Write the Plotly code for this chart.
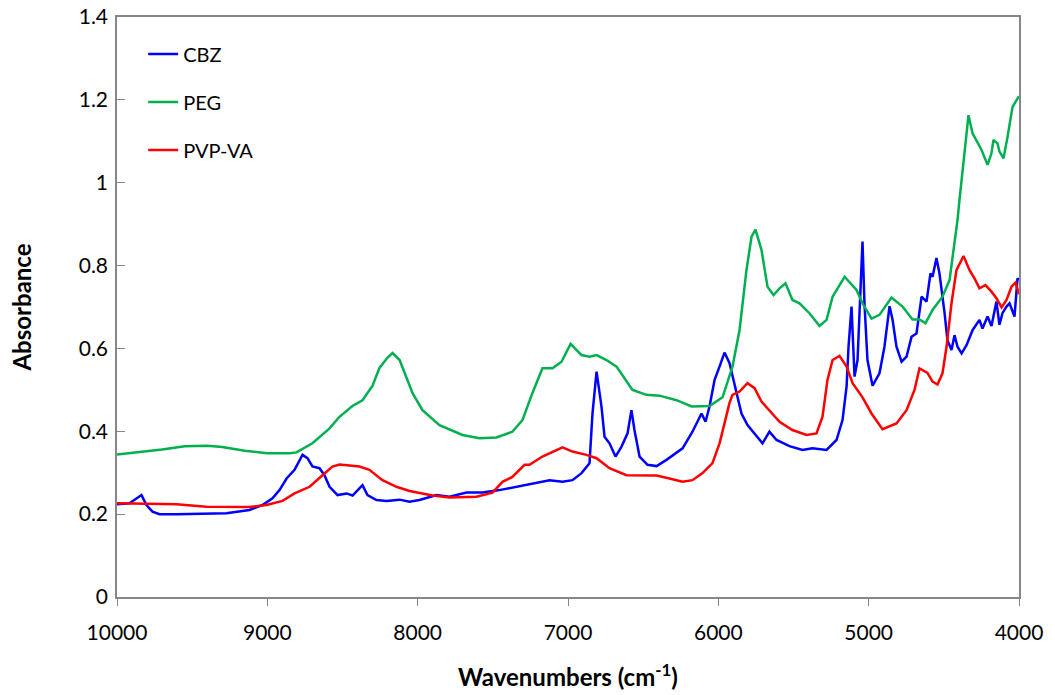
import plotly.graph_objects as go

# NIR absorbance spectra, 10000-4000 cm-1
cbz_wn = [10000, 9917, 9837, 9804, 9764, 9717, 9604, 9450, 9272, 9119, 9032, 8966, 8919, 8872,
          8819, 8766, 8733, 8700, 8653, 8620, 8586, 8533, 8473, 8433, 8367, 8334, 8274, 8207,
          8121, 8054, 7988, 7875, 7788, 7675, 7569, 7456, 7343, 7236, 7123, 7037, 6970, 6910,
          6857, 6837, 6810, 6777, 6757, 6724, 6684, 6644, 6604, 6578, 6558, 6524, 6471, 6411,
          6345, 6238, 6172, 6112, 6085, 6059, 6025, 5992, 5959, 5926, 5879, 5846, 5806, 5759,
          5706, 5660, 5613, 5527, 5440, 5374, 5280, 5214, 5174, 5147, 5134, 5114, 5094, 5074,
          5054, 5041, 5028, 5008, 4974, 4928, 4895, 4861, 4841, 4815, 4781, 4748, 4715, 4682,
          4648, 4615, 4589, 4575, 4549, 4529, 4495, 4476, 4449, 4429, 4409, 4382, 4349, 4309,
          4263, 4243, 4209, 4183, 4150, 4130, 4110, 4083, 4063, 4030, 4010, 4000]
cbz_abs = [0.224, 0.226, 0.246, 0.222, 0.206, 0.200, 0.200, 0.201, 0.202, 0.210, 0.222, 0.238,
           0.258, 0.286, 0.307, 0.343, 0.335, 0.315, 0.311, 0.294, 0.266, 0.246, 0.250, 0.245,
           0.270, 0.246, 0.234, 0.232, 0.235, 0.230, 0.234, 0.246, 0.242, 0.252, 0.252, 0.258,
           0.266, 0.274, 0.282, 0.278, 0.282, 0.299, 0.323, 0.443, 0.544, 0.459, 0.387, 0.371,
           0.339, 0.363, 0.395, 0.451, 0.403, 0.339, 0.319, 0.316, 0.331, 0.359, 0.399, 0.443,
           0.423, 0.459, 0.524, 0.556, 0.590, 0.565, 0.492, 0.443, 0.415, 0.395, 0.371, 0.399,
           0.379, 0.364, 0.355, 0.359, 0.355, 0.379, 0.427, 0.508, 0.604, 0.701, 0.532, 0.572,
           0.749, 0.858, 0.709, 0.572, 0.510, 0.540, 0.604, 0.702, 0.669, 0.604, 0.568, 0.580,
           0.628, 0.636, 0.725, 0.713, 0.781, 0.773, 0.818, 0.781, 0.685, 0.620, 0.596, 0.632,
           0.604, 0.588, 0.608, 0.644, 0.669, 0.648, 0.677, 0.654, 0.713, 0.657, 0.685, 0.701,
           0.709, 0.677, 0.769, 0.765]

peg_wn = [10000, 9850, 9700, 9550, 9400, 9300, 9150, 9000, 8850, 8806, 8700, 8586, 8520, 8434,
          8367, 8300, 8254, 8200, 8167, 8120, 8034, 7968, 7855, 7702, 7589, 7476, 7370, 7303,
          7237, 7170, 7103, 7043, 6983, 6910, 6857, 6810, 6744, 6677, 6591, 6571, 6478, 6391,
          6278, 6178, 6058, 5972, 5906, 5859, 5813, 5779, 5753, 5713, 5673, 5633, 5593, 5553,
          5507, 5460, 5394, 5327, 5280, 5240, 5160, 5081, 5041, 4981, 4928, 4848, 4775, 4708,
          4662, 4622, 4575, 4509, 4462, 4430, 4409, 4396, 4362, 4336, 4309, 4276, 4249, 4209,
          4183, 4170, 4143, 4130, 4103, 4076, 4043, 4000]
peg_abs = [0.344, 0.350, 0.356, 0.364, 0.365, 0.362, 0.353, 0.347, 0.347, 0.349, 0.371, 0.407,
           0.435, 0.461, 0.475, 0.510, 0.553, 0.578, 0.589, 0.572, 0.492, 0.451, 0.415, 0.391,
           0.383, 0.385, 0.399, 0.427, 0.492, 0.552, 0.552, 0.568, 0.611, 0.584, 0.580, 0.584,
           0.572, 0.556, 0.512, 0.500, 0.488, 0.486, 0.475, 0.460, 0.461, 0.482, 0.556, 0.644,
           0.789, 0.870, 0.887, 0.838, 0.749, 0.729, 0.745, 0.757, 0.717, 0.709, 0.685, 0.654,
           0.669, 0.725, 0.773, 0.741, 0.709, 0.672, 0.681, 0.723, 0.701, 0.670, 0.670, 0.661,
           0.693, 0.725, 0.765, 0.846, 0.910, 0.958, 1.079, 1.163, 1.119, 1.095, 1.079, 1.043,
           1.071, 1.103, 1.095, 1.075, 1.059, 1.111, 1.183, 1.209]

pvp_wn = [10000, 9604, 9405, 9119, 9006, 8899, 8819, 8719, 8633, 8567, 8520, 8387, 8321, 8234,
          8141, 8054, 7901, 7788, 7609, 7502, 7436, 7370, 7289, 7256, 7170, 7103, 7037, 6970,
          6877, 6810, 6724, 6611, 6411, 6325, 6238, 6172, 6105, 6039, 5992, 5959, 5926, 5906,
          5859, 5806, 5759, 5713, 5660, 5593, 5507, 5413, 5347, 5307, 5274, 5240, 5194, 5147,
          5107, 5041, 4981, 4908, 4815, 4748, 4695, 4662, 4609, 4575, 4542, 4509, 4482, 4449,
          4416, 4369, 4329, 4296, 4263, 4223, 4183, 4150, 4116, 4083, 4050, 4023, 4000]
pvp_abs = [0.226, 0.224, 0.218, 0.217, 0.222, 0.232, 0.250, 0.266, 0.294, 0.315, 0.320, 0.315,
           0.307, 0.282, 0.266, 0.256, 0.245, 0.240, 0.242, 0.252, 0.278, 0.290, 0.319, 0.319,
           0.339, 0.351, 0.361, 0.351, 0.343, 0.335, 0.311, 0.294, 0.293, 0.286, 0.278, 0.282,
           0.299, 0.323, 0.371, 0.419, 0.468, 0.488, 0.496, 0.516, 0.504, 0.472, 0.451, 0.423,
           0.403, 0.391, 0.395, 0.435, 0.524, 0.572, 0.582, 0.556, 0.516, 0.482, 0.443, 0.405,
           0.419, 0.451, 0.500, 0.552, 0.541, 0.520, 0.513, 0.540, 0.604, 0.709, 0.789, 0.823,
           0.789, 0.769, 0.745, 0.753, 0.737, 0.721, 0.699, 0.717, 0.749, 0.759, 0.731]

series = [
    ("CBZ", cbz_wn, cbz_abs, "#0000FF"),
    ("PEG", peg_wn, peg_abs, "#00B050"),
    ("PVP-VA", pvp_wn, pvp_abs, "#FF0000"),
]

FONT = "Lato, Carlito, Calibri, sans-serif"
AXIS_GRAY = "#868686"

fig = go.Figure()
for i, (name, wn, ab, color) in enumerate(series):
    fig.add_trace(go.Scatter(
        x=wn, y=ab, mode="lines", name=name, legendgroup=str(i),
        line=dict(color=color, width=2.5),
    ))

fig.update_layout(
    width=1055, height=695,
    margin=dict(l=117, r=36, t=17, b=98),
    paper_bgcolor="white", plot_bgcolor="white",
    font=dict(family=FONT, size=20, color="black"),
    showlegend=True,
    legend=dict(
        x=0.029, y=0.97, xanchor="left", yanchor="top",
        bgcolor="rgba(0,0,0,0)", tracegroupgap=19,
        font=dict(family=FONT, size=20, color="black"),
        itemwidth=30,
    ),
    xaxis=dict(
        range=[10000, 4000], tickmode="linear", tick0=4000, dtick=1000,
        tickformat="d", showgrid=False, zeroline=False, automargin=False,
        showline=True, mirror=True, linecolor=AXIS_GRAY, linewidth=1.5,
        ticks="outside", ticklen=7, tickcolor=AXIS_GRAY, tickwidth=1,
        ticklabelstandoff=9,
        tickfont=dict(family=FONT, size=21, color="black"),
        title=dict(text="<b>Wavenumbers (cm<sup>-1</sup>)</b>",
                   font=dict(family=FONT, size=24, color="black"), standoff=26),
    ),
    yaxis=dict(
        range=[0, 1.4], tickmode="linear", tick0=0, dtick=0.2,
        showgrid=False, zeroline=False, automargin=False,
        showline=True, mirror=True, linecolor=AXIS_GRAY, linewidth=1.5,
        ticks="inside", ticklen=8, tickcolor=AXIS_GRAY, tickwidth=1,
        ticklabelstandoff=3,
        tickfont=dict(family=FONT, size=21, color="black"),
        title=dict(text="<b>Absorbance</b>",
                   font=dict(family=FONT, size=24, color="black"), standoff=40),
    ),
)

fig.write_html("out.html")
